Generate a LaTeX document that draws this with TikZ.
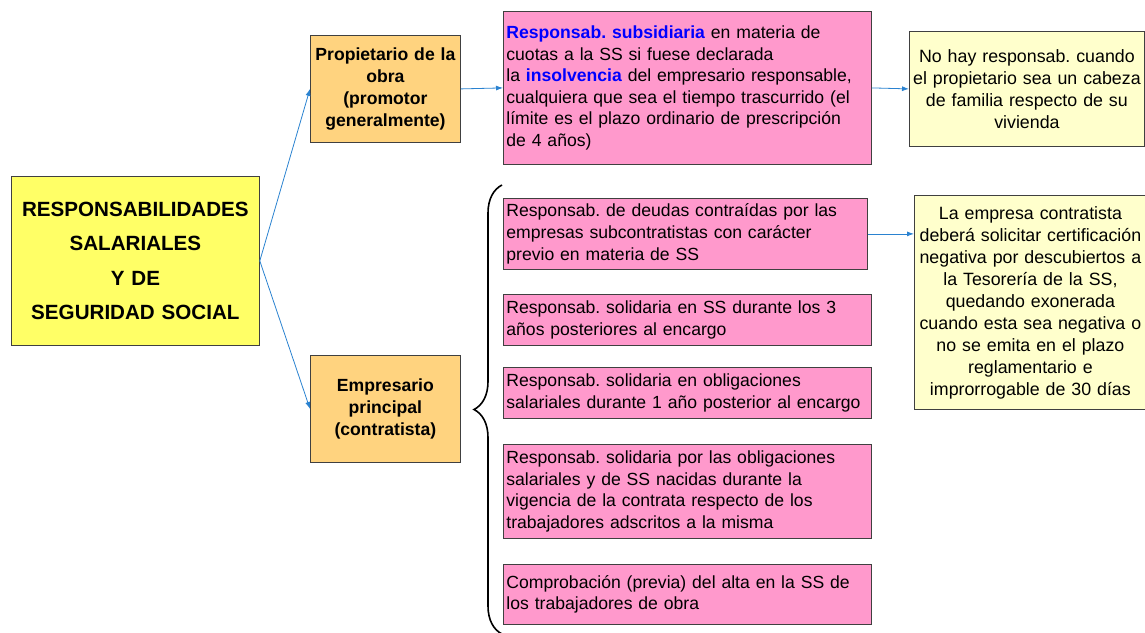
\documentclass[tikz,border=0pt]{standalone}
\usepackage{fontspec}
\setmainfont{Liberation Sans}
\usetikzlibrary{arrows.meta,decorations.pathreplacing}
\definecolor{mainyellow}{HTML}{FFFF66}
\definecolor{boxorange}{HTML}{FFD37F}
\definecolor{boxpink}{HTML}{FF99CC}
\definecolor{noteyellow}{HTML}{FFFFCC}
\definecolor{arrowblue}{HTML}{2A82D0}
\definecolor{textblue}{HTML}{0000FF}
\frenchspacing
\begin{document}
\begin{tikzpicture}[x=1pt,y=-1pt,
    box/.style={draw=black!75,line width=0.8pt,anchor=north west,inner xsep=3pt,inner ysep=0pt},
    mainbox/.style={box,fill=mainyellow,align=center,font=\bfseries\fontsize{20.6}{34.5}\selectfont},
    rolebox/.style={box,fill=boxorange,align=center,font=\bfseries\fontsize{17.6}{22}\selectfont},
    pinkbox/.style={box,fill=boxpink,align=left,font=\fontsize{17.6}{21.6}\selectfont},
    notebox/.style={box,fill=noteyellow,align=center,font=\fontsize{17.8}{22}\selectfont},
    conn/.style={draw=arrowblue,line width=0.8pt,-{Latex[length=7pt,width=5pt]}}]
  \useasboundingbox (0,0) rectangle (1145,632);
  % left side
  \node[mainbox,minimum width=248pt,minimum height=169pt,text width=242pt] (resp) at (11,176)
    {RESPONSABILIDADES\\SALARIALES\\Y DE\\SEGURIDAD SOCIAL};
  \node[rolebox,minimum width=150pt,minimum height=107pt,text width=144pt] (prop) at (310,35)
    {Propietario de la\\obra\\(promotor\\generalmente)};
  \node[rolebox,minimum width=150pt,minimum height=107pt,text width=144pt] (empr) at (310,355)
    {Empresario\\principal\\(contratista)};
  % propietario
  \node[pinkbox,minimum width=368pt,minimum height=153pt,text width=362pt] (subs) at (503,11)
    {\textcolor{textblue}{\textbf{Responsab. subsidiaria}} en materia de\\
     cuotas a la SS si fuese declarada\\
     la \textcolor{textblue}{\textbf{insolvencia}} del empresario responsable,\\
     cualquiera que sea el tiempo trascurrido (el\\
     límite es el plazo ordinario de prescripción\\
     de 4 años)};
  \node[notebox,minimum width=235pt,minimum height=115pt,text width=229pt] (cabeza) at (909,31)
    {No hay responsab. cuando\\el propietario sea un cabeza\\de familia respecto de su\\vivienda};
  % contratista
  \node[pinkbox,minimum width=364pt,minimum height=71pt,text width=358pt] (deudas) at (503,198)
    {Responsab. de deudas contraídas por las\\empresas subcontratistas con carácter\\previo en materia de SS};
  \node[pinkbox,minimum width=368pt,minimum height=51pt,text width=362pt] (tres) at (503,294)
    {Responsab. solidaria en SS durante los 3\\años posteriores al encargo};
  \node[pinkbox,minimum width=368pt,minimum height=51pt,text width=362pt] (uno) at (503,367)
    {Responsab. solidaria en obligaciones\\salariales durante 1 año posterior al encargo};
  \node[pinkbox,minimum width=368pt,minimum height=94pt,text width=362pt] (vigencia) at (503,444)
    {Responsab. solidaria por las obligaciones\\salariales y de SS nacidas durante la\\vigencia de la contrata respecto de los\\trabajadores adscritos a la misma};
  \node[pinkbox,minimum width=368pt,minimum height=60pt,text width=362pt] (alta) at (503,564)
    {Comprobación (previa) del alta en la SS de\\los trabajadores de obra};
  \node[notebox,minimum width=230pt,minimum height=214pt,text width=226pt] (certif) at (914,195)
    {La empresa contratista\\deberá solicitar certificación\\negativa por descubiertos a\\la Tesorería de la SS,\\quedando exonerada\\cuando esta sea negativa o\\no se emita en el plazo\\reglamentario e\\improrrogable de 30 días};
  % brace
  \coordinate (bracebot) at (502,634);
  \coordinate (bracetop) at (502,185);
  \draw[line width=1.6pt,decorate,decoration={brace,amplitude=28pt}] (bracebot) -- (bracetop);
  % connectors
  \draw[conn] (resp.east) -- (prop.west);
  \draw[conn] (resp.east) -- (empr.west);
  \draw[conn] (prop.east) -- (subs.west);
  \draw[conn] (subs.east) -- (cabeza.west);
  \draw[conn] (deudas.east) -- (deudas.east -| certif.west);
\end{tikzpicture}
\end{document}
